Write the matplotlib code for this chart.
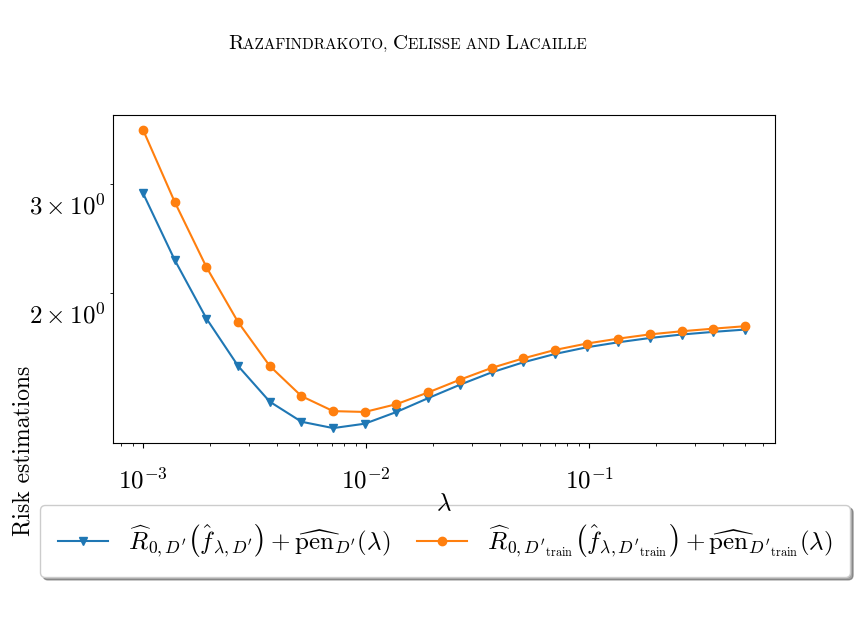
import numpy as np
import matplotlib
matplotlib.use("Agg")
import matplotlib.pyplot as plt
import matplotlib.transforms as mtransforms

plt.rcParams['font.family'] = 'serif'
plt.rcParams['font.serif'] = ['cmr10', 'DejaVu Serif']
plt.rcParams['mathtext.fontset'] = 'cm'
plt.rcParams['axes.formatter.use_mathtext'] = True

# regularisation grid (lambda) and the two risk estimations
lam = [0.001, 0.001387, 0.001924, 0.002668, 0.003700, 0.005132, 0.007118,
       0.009872, 0.01369, 0.01899, 0.02634, 0.03653, 0.05066, 0.07026,
       0.09745, 0.1352, 0.1875, 0.2600, 0.3606, 0.5]
risk_d = [2.899, 2.258, 1.814, 1.519, 1.329, 1.233, 1.204, 1.224, 1.279,
          1.347, 1.416, 1.483, 1.540, 1.589, 1.629, 1.660, 1.687, 1.709,
          1.726, 1.741]
risk_train = [3.676, 2.806, 2.199, 1.790, 1.519, 1.357, 1.283, 1.279, 1.317,
              1.376, 1.443, 1.508, 1.563, 1.613, 1.652, 1.683, 1.710, 1.730,
              1.747, 1.763]

label_d = r"$\widehat{R}_{0,D'}\left(\hat{f}_{\lambda,D'}\right)+\widehat{\mathrm{pen}}_{D'}(\lambda)$"
label_train = (r"$\widehat{R}_{0,D'_{\mathrm{train}}}\left(\hat{f}_{\lambda,D'_{\mathrm{train}}}\right)"
               r"+\widehat{\mathrm{pen}}_{D'_{\mathrm{train}}}(\lambda)$")

header = [("R", 15), ("AZAFINDRAKOTO, ", 11), ("C", 15), ("ELISSE AND ", 11),
          ("L", 15), ("ACAILLE", 11)]

fig = plt.figure(figsize=(8.58, 6.17), dpi=100)
ax = fig.add_axes([0.1317, 0.282, 0.7716, 0.5316])

ax.plot(lam, risk_d, color='#1f77b4', marker='v', label=label_d)
ax.plot(lam, risk_train, color='#ff7f0e', marker='o', label=label_train)
ax.set_xscale('log')
ax.set_yscale('log')

ax.tick_params(axis='both', which='both', labelsize=18)
ax.tick_params(axis='x', which='major', pad=14)
ax.set_xlabel(r"$\lambda$", fontsize=18, labelpad=0)
ax.set_ylabel("Risk estimations", fontsize=17)
ax.yaxis.set_label_coords(-0.118, -0.024)

leg = fig.legend(loc='center', bbox_to_anchor=(0.047, 0.068, 0.944, 0.11),
                 mode='expand', ncol=2, fontsize=18, fancybox=True, shadow=True,
                 handlelength=2.0, borderaxespad=0, borderpad=0.7)
leg.set_zorder(-1)  # keep the lambda label visible over the legend box

# running header in small caps
t = fig.text(228 / 858, 0.92, header[0][0], fontsize=header[0][1], va='baseline')
for s, size in header[1:]:
    t = ax.annotate(s, xy=(1, 0.92), xycoords=(t, 'figure fraction'),
                    fontsize=size, va='baseline', ha='left')

# y tick labels sit a little below their ticks in the reference
fig.canvas.draw()
shift = mtransforms.ScaledTranslation(0, -20 / 100, fig.dpi_scale_trans)
for tk in ax.yaxis.get_major_ticks() + ax.yaxis.get_minor_ticks():
    tk.label1.set_transform(tk.label1.get_transform() + shift)

fig.savefig('out.png', dpi=100)
